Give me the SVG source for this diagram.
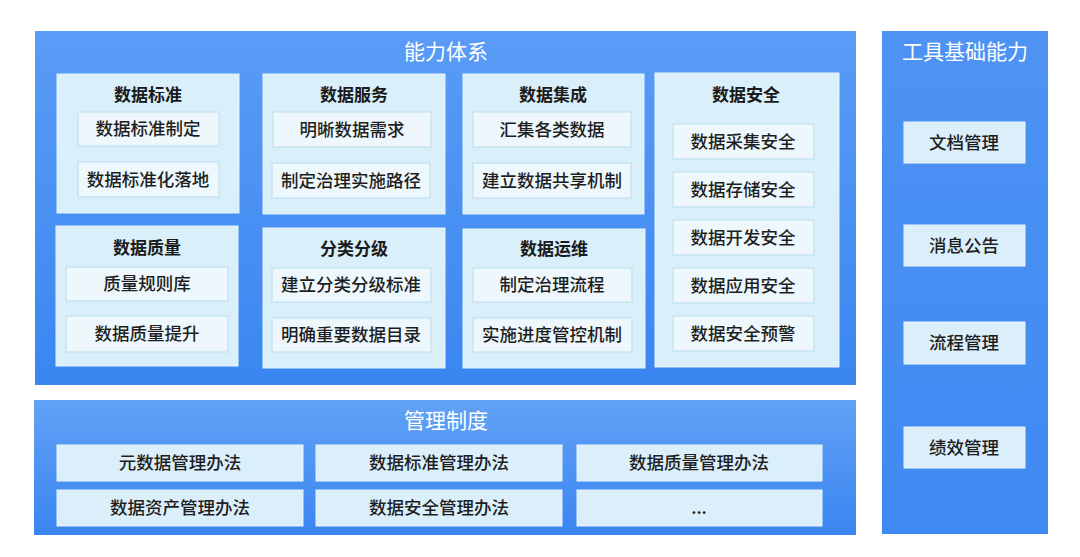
<svg xmlns="http://www.w3.org/2000/svg" width="1080" height="557" viewBox="0 0 1080 557">
<defs>
<linearGradient id="gMain" x1="0" y1="0" x2="0" y2="1">
<stop offset="0" stop-color="#5a9cf6"/>
<stop offset="1" stop-color="#3a86f1"/>
</linearGradient>
<linearGradient id="gSide" x1="0" y1="0" x2="0" y2="1">
<stop offset="0" stop-color="#4e93f4"/>
<stop offset="1" stop-color="#3f89f2"/>
</linearGradient>
<linearGradient id="gBot" x1="0" y1="0" x2="0" y2="1">
<stop offset="0" stop-color="#62a2f6"/>
<stop offset="1" stop-color="#3a85f1"/>
</linearGradient>
</defs>
<style>
.panel{stroke:none}
.box{fill:#d9eff9;stroke:#e6f4fb;stroke-width:1}
.item{fill:#eef8fc;stroke:#c0e2f1;stroke-width:1.2}
.bitem{fill:#dbeffa;stroke:#e8f4fb;stroke-width:1}
.ptitle{font-family:"Noto Sans CJK SC","Noto Sans",sans-serif;font-size:21px;fill:#ffffff;text-anchor:middle;font-weight:400}
.btitle{font-family:"Noto Sans CJK SC","Noto Sans",sans-serif;font-size:17px;fill:#1a1a1a;text-anchor:middle;font-weight:700}
.t{font-family:"Noto Sans CJK SC","Noto Sans",sans-serif;font-size:17.5px;fill:#1e1e1e;text-anchor:middle;font-weight:500}
</style>
<rect width="1080" height="557" fill="#ffffff"/>

<g id="capability">
<rect class="panel" x="35" y="31" width="821" height="354" fill="url(#gMain)"/>
<text class="ptitle" x="446" y="59">能力体系</text>
</g>

<g id="data-standard">
<rect class="box" x="57" y="74" width="182" height="139"/>
<text class="btitle" x="148" y="101">数据标准</text>
<rect class="item" x="78" y="112" width="141" height="34"/>
<text class="t" x="148" y="135">数据标准制定</text>
<rect class="item" x="78" y="162" width="141" height="35"/>
<text class="t" x="148" y="186">数据标准化落地</text>
</g>

<g id="data-service">
<rect class="box" x="263" y="74" width="182" height="140"/>
<text class="btitle" x="354" y="101">数据服务</text>
<rect class="item" x="273" y="112" width="158" height="35"/>
<text class="t" x="352" y="136">明晰数据需求</text>
<rect class="item" x="272" y="163" width="158" height="35"/>
<text class="t" x="351" y="187">制定治理实施路径</text>
</g>

<g id="data-integration">
<rect class="box" x="463" y="74" width="181" height="140"/>
<text class="btitle" x="553" y="101">数据集成</text>
<rect class="item" x="473" y="112" width="158" height="35"/>
<text class="t" x="552" y="136">汇集各类数据</text>
<rect class="item" x="473" y="163" width="158" height="35"/>
<text class="t" x="552" y="187">建立数据共享机制</text>
</g>

<g id="data-security">
<rect class="box" x="655" y="73" width="184" height="294"/>
<text class="btitle" x="746" y="101">数据安全</text>
<rect class="item" x="673" y="124" width="141" height="35"/>
<text class="t" x="743" y="148">数据采集安全</text>
<rect class="item" x="673" y="172" width="141" height="35"/>
<text class="t" x="743" y="196">数据存储安全</text>
<rect class="item" x="673" y="220" width="141" height="35"/>
<text class="t" x="743" y="244">数据开发安全</text>
<rect class="item" x="673" y="268" width="141" height="35"/>
<text class="t" x="743" y="292">数据应用安全</text>
<rect class="item" x="673" y="316" width="141" height="35"/>
<text class="t" x="743" y="340">数据安全预警</text>
</g>

<g id="data-quality">
<rect class="box" x="56" y="226" width="182" height="140"/>
<text class="btitle" x="147" y="254">数据质量</text>
<rect class="item" x="66" y="267" width="162" height="34"/>
<text class="t" x="147" y="290">质量规则库</text>
<rect class="item" x="66" y="316" width="162" height="36"/>
<text class="t" x="147" y="340">数据质量提升</text>
</g>

<g id="classification">
<rect class="box" x="263" y="228" width="182" height="140"/>
<text class="btitle" x="354" y="255">分类分级</text>
<rect class="item" x="272" y="268" width="159" height="34"/>
<text class="t" x="351" y="291">建立分类分级标准</text>
<rect class="item" x="272" y="318" width="159" height="34"/>
<text class="t" x="351" y="341">明确重要数据目录</text>
</g>

<g id="data-ops">
<rect class="box" x="463" y="229" width="182" height="139"/>
<text class="btitle" x="554" y="255">数据运维</text>
<rect class="item" x="473" y="268" width="159" height="34"/>
<text class="t" x="552" y="291">制定治理流程</text>
<rect class="item" x="473" y="318" width="159" height="34"/>
<text class="t" x="552" y="341">实施进度管控机制</text>
</g>

<g id="tools">
<rect class="panel" x="882" y="31" width="166" height="503" fill="url(#gSide)"/>
<text class="ptitle" x="965" y="59">工具基础能力</text>
<rect class="bitem" x="904" y="122" width="121" height="41"/>
<text class="t" x="964" y="149">文档管理</text>
<rect class="bitem" x="904" y="225" width="121" height="41"/>
<text class="t" x="964" y="252">消息公告</text>
<rect class="bitem" x="904" y="322" width="121" height="42"/>
<text class="t" x="964" y="349">流程管理</text>
<rect class="bitem" x="904" y="427" width="121" height="41"/>
<text class="t" x="964" y="454">绩效管理</text>
</g>

<g id="management">
<rect class="panel" x="34" y="400" width="822" height="135" fill="url(#gBot)"/>
<text class="ptitle" x="446" y="428">管理制度</text>
<rect class="bitem" x="57" y="445" width="246" height="36"/>
<text class="t" x="180" y="469">元数据管理办法</text>
<rect class="bitem" x="316" y="445" width="246" height="36"/>
<text class="t" x="439" y="469">数据标准管理办法</text>
<rect class="bitem" x="577" y="445" width="245" height="36"/>
<text class="t" x="699" y="469">数据质量管理办法</text>
<rect class="bitem" x="57" y="490" width="246" height="36"/>
<text class="t" x="180" y="514">数据资产管理办法</text>
<rect class="bitem" x="316" y="490" width="246" height="36"/>
<text class="t" x="439" y="514">数据安全管理办法</text>
<rect class="bitem" x="577" y="490" width="245" height="36"/>
<text class="t" x="699" y="514">...</text>
</g>

<g id="connectors"></g>
</svg>
